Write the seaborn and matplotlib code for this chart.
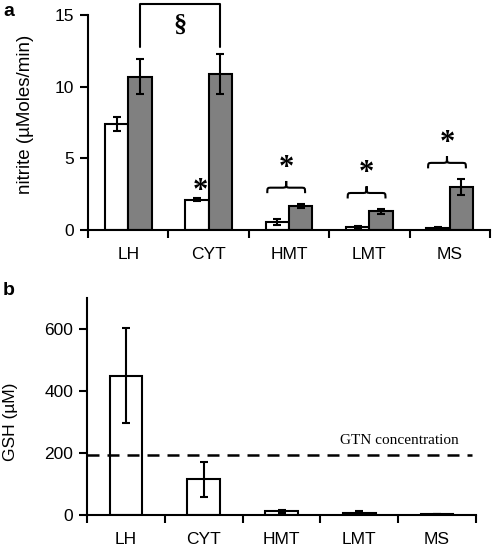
import numpy as np
import pandas as pd
import matplotlib
matplotlib.use("Agg")
import matplotlib.pyplot as plt
from matplotlib.path import Path
from matplotlib.patches import PathPatch
import seaborn as sns

# data
regions = ["LH", "CYT", "HMT", "LMT", "MS"]
nitrite_ctrl = [7.4, 2.1, 0.55, 0.2, 0.15]
nitrite_ctrl_err = [0.5, 0.1, 0.2, 0.05, 0.05]
nitrite_gtn = [10.7, 10.9, 1.67, 1.3, 3.0]
nitrite_gtn_err = [1.2, 1.4, 0.15, 0.15, 0.55]
gsh = [450, 115, 12, 8, 3]
gsh_err = [152, 57, 4, 4, 1]
gtn_conc = 195
star_groups = ["HMT", "LMT", "MS"]

sns.set_style("white")
plt.rcParams["font.family"] = ["Liberation Sans", "DejaVu Sans"]
plt.rcParams["axes.linewidth"] = 1.5
for key in ["text.color", "axes.labelcolor", "xtick.color", "ytick.color", "axes.edgecolor"]:
    plt.rcParams[key] = "black"

fig = plt.figure(figsize=(4.95, 5.52), dpi=100)
ax_a = fig.add_axes([88 / 495, 1 - 230 / 552, 402 / 495, 215 / 552])
ax_b = fig.add_axes([87 / 495, 1 - 515 / 552, 389 / 495, 217 / 552])


def style_axis(ax):
    sns.despine(ax=ax)
    ax.set_xlim(-0.5, 4.5)
    ax.set_xticks(np.arange(-0.5, 5), labels=[])
    ax.set_xticks(range(5), labels=regions, minor=True)
    ax.tick_params(axis="x", which="major", direction="out", length=6, width=1.5, bottom=True)
    ax.tick_params(axis="x", which="minor", length=0, pad=12, labelsize=12.5)
    ax.tick_params(axis="y", direction="out", length=6, width=1.5, left=True, pad=4, labelsize=12.5)
    ax.set_xlabel("")


def brace(ax, x0, x1, y0, h, lw=1.5):
    # curly brace pointing up
    xm = (x0 + x1) / 2
    r = (x1 - x0) * 0.12
    ym = y0 + h * 0.45
    verts = [(x0, y0), (x0, ym), (x0, ym), (x0 + r, ym),
             (xm - r, ym),
             (xm, ym), (xm, ym), (xm, y0 + h),
             (xm, ym), (xm, ym), (xm + r, ym),
             (x1 - r, ym),
             (x1, ym), (x1, ym), (x1, y0)]
    codes = [Path.MOVETO, Path.CURVE4, Path.CURVE4, Path.CURVE4,
             Path.LINETO,
             Path.CURVE4, Path.CURVE4, Path.CURVE4,
             Path.CURVE4, Path.CURVE4, Path.CURVE4,
             Path.LINETO,
             Path.CURVE4, Path.CURVE4, Path.CURVE4]
    ax.add_patch(PathPatch(Path(verts, codes), fill=False, lw=lw, color="black", clip_on=False))


# panel a
df_a = pd.DataFrame({
    "region": regions * 2,
    "nitrite": nitrite_ctrl + nitrite_gtn,
    "cond": ["ctrl"] * 5 + ["gtn"] * 5,
})
sns.barplot(data=df_a, x="region", y="nitrite", hue="cond", order=regions,
            palette=["white", "#808080"], edgecolor="black", linewidth=1.5,
            width=0.58, errorbar=None, legend=False, ax=ax_a)
centers = {}
for cont, errs, cond in zip(ax_a.containers, [nitrite_ctrl_err, nitrite_gtn_err], ["ctrl", "gtn"]):
    for bar, e, reg in zip(cont, errs, regions):
        xc = bar.get_x() + bar.get_width() / 2
        top = bar.get_height()
        centers[(cond, reg)] = (xc, top + e)
        ax_a.errorbar(xc, top, yerr=e, color="black", lw=1.5, capsize=3, capthick=1.5)

style_axis(ax_a)
ax_a.set_ylim(0, 15)
ax_a.set_yticks([0, 5, 10, 15])
ax_a.set_ylabel("nitrite (µMoles/min)", fontsize=13.5)
ax_a.yaxis.set_label_coords(-0.135, 0.54)

# section-sign bracket between LH and CYT treated bars
xl = centers[("gtn", "LH")][0]
xr = centers[("gtn", "CYT")][0]
yb = max(centers[("gtn", "LH")][1], centers[("gtn", "CYT")][1]) + 0.5
ax_a.plot([xl, xl, xr, xr], [yb, 15.8, 15.8, yb], color="black", lw=1.5, clip_on=False)
ax_a.text((xl + xr) / 2, 14.3, "§", ha="center", va="center", fontsize=19,
          fontweight="bold", family="Liberation Serif")

# asterisk over CYT control
xc, yt = centers[("ctrl", "CYT")]
ax_a.text(xc + 0.04, yt + 0.5, "*", ha="center", va="center", fontsize=22,
          fontweight="bold", family="Liberation Serif")

# braces with asterisks
for reg in star_groups:
    i = regions.index(reg)
    base = centers[("gtn", reg)][1] + 0.75
    brace(ax_a, i - 0.27, i + 0.2, base, 0.85)
    ax_a.text(i - 0.035, base + 1.75, "*", ha="center", va="center", fontsize=22,
              fontweight="bold", family="Liberation Serif")

# panel b
df_b = pd.DataFrame({"region": regions, "gsh": gsh})
sns.barplot(data=df_b, x="region", y="gsh", order=regions, color="white",
            edgecolor="black", linewidth=1.5, width=0.42, errorbar=None, ax=ax_b)
for bar, e in zip(ax_b.containers[0], gsh_err):
    ax_b.errorbar(bar.get_x() + bar.get_width() / 2, bar.get_height(), yerr=e,
                  color="black", lw=1.5, capsize=3, capthick=1.5)

style_axis(ax_b)
ax_b.set_ylim(0, 700)
ax_b.set_yticks([0, 200, 400, 600])
ax_b.set_ylabel("GSH (µM)", fontsize=12.5)
ax_b.yaxis.set_label_coords(-0.177, 0.43)
ax_b.axhline(gtn_conc, xmin=0, xmax=0.99, color="black", lw=1.8, linestyle=(0, (4.8, 3.2)))
ax_b.text(3.52, gtn_conc + 25, "GTN concentration", ha="center", va="bottom",
          fontsize=11, family="Liberation Serif")

fig.text(0.006, 0.995, "a", fontsize=14, fontweight="bold", va="top", ha="left")
fig.text(0.006, 1 - 282 / 552, "b", fontsize=14, fontweight="bold", va="top", ha="left")

fig.savefig("out.png", dpi=100)
